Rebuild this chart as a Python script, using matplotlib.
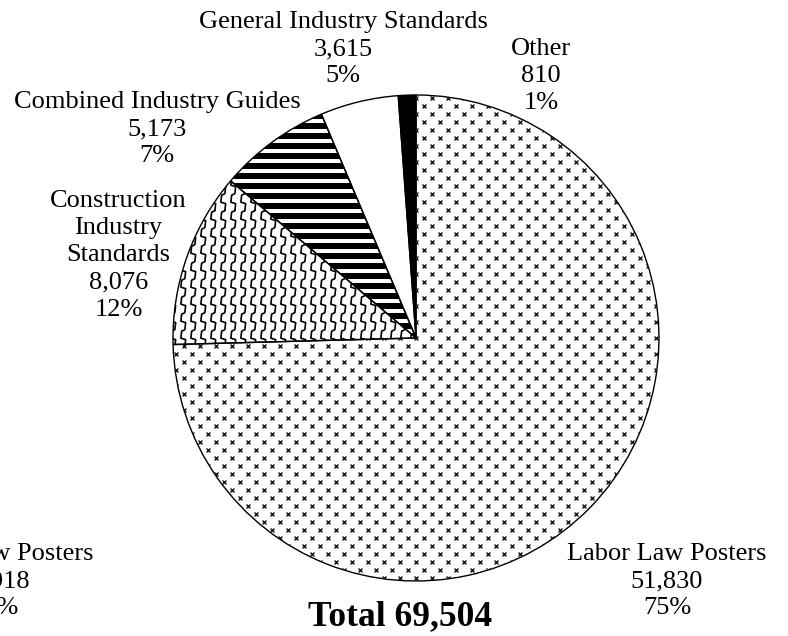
import numpy as np
import matplotlib
matplotlib.use("Agg")
import matplotlib.pyplot as plt
from matplotlib.collections import LineCollection

# ---- data ----
categories = ["Labor Law Posters", "Construction\nIndustry\nStandards",
              "Combined Industry Guides", "General Industry Standards", "Other"]
counts = [51830, 8076, 5173, 3615, 810]
total_text = "Total 69,504"

# ---- figure / axes ----
W, H = 788, 636
fig = plt.figure(figsize=(W / 100, H / 100), dpi=100)
cx, cy, R = 416, 338, 243          # pie centre and radius in pixels (from top-left)
ax = fig.add_axes([(cx - R) / W, (H - cy - R) / H, 2 * R / W, 2 * R / H])

fills = ["white", "white", "white", "white", "black"]
wedges, _ = ax.pie(counts, startangle=90, counterclock=False, colors=fills,
                   wedgeprops=dict(linewidth=0))
ax.set_xlim(-1, 1)
ax.set_ylim(-1, 1)
ax.set_aspect("equal")
ax.axis("off")

px = 1.0 / R  # one pixel in data units

# Labor Law Posters: staggered grid of small crosses
gx, gy = [], []
for i, y in enumerate(np.arange(-1.02, 1.02, 8 * px)):
    off = 0 if i % 2 == 0 else 8 * px
    for x in np.arange(-1.02 + off, 1.02, 16 * px):
        gx.append(x)
        gy.append(y)
crosses, = ax.plot(gx, gy, linestyle="none", marker="x", markersize=3.4,
                   markeredgewidth=1.0, color="#1a1a1a")
crosses.set_clip_path(wedges[0])

# Construction Industry Standards: stepped vertical wave lines
segs = []
rise, jog = 7 * px, 4 * px
for x0 in np.arange(-1.05, 1.05, 10 * px):
    pts = []
    y = -1.05
    k = 0
    while y < 1.05:
        xa = x0 + (jog if k % 2 else 0)
        xb = x0 + (0 if k % 2 else jog)
        pts.append((xa, y))
        pts.append((xa + 0.8 * px, y + rise))
        pts.append((xb, y + rise + 1.5 * px))
        y += rise + 1.5 * px
        k += 1
    segs.append(pts)
lc = LineCollection(segs, colors="black", linewidths=1.2)
ax.add_collection(lc)
lc.set_clip_path(wedges[1])

# Combined Industry Guides: thick horizontal stripes
hsegs = [[(-1.02, y), (1.02, y)] for y in np.arange(-1.02, 1.02, 10 * px)]
hc = LineCollection(hsegs, colors="black", linewidths=6 * 0.72)
ax.add_collection(hc)
hc.set_clip_path(wedges[2])

# Slice outlines on top
ax.pie(counts, startangle=90, counterclock=False, colors=["none"] * len(counts),
       wedgeprops=dict(edgecolor="black", linewidth=1.0))
ax.set_xlim(-1, 1)
ax.set_ylim(-1, 1)

# ---- labels ----
total = sum(counts)
FONT = "Liberation Serif"


def put_label(lines, x, y0, pitch=27.2, size=19, weight="normal"):
    for i, s in enumerate(lines):
        fig.text(x / W, 1 - (y0 + i * pitch) / H, s, ha="center", va="baseline",
                 fontsize=size, family=FONT, fontweight=weight)


label_pos = [(667, 560), (118.5, 207), (157, 108), (343, 28), (541, 55)]
for name, n, (lx, ly) in zip(categories, counts, label_pos):
    lines = name.split("\n") + [f"{n:,}", f"{round(100 * n / total)}%"]
    put_label(lines, lx, ly)

# second label set partly outside the left edge
put_label(["Labor Law Posters", "51,918", "75%"], -6, 560)

put_label([total_text], 400, 625, size=25.5, weight="bold")

fig.savefig("out.png", dpi=100)
